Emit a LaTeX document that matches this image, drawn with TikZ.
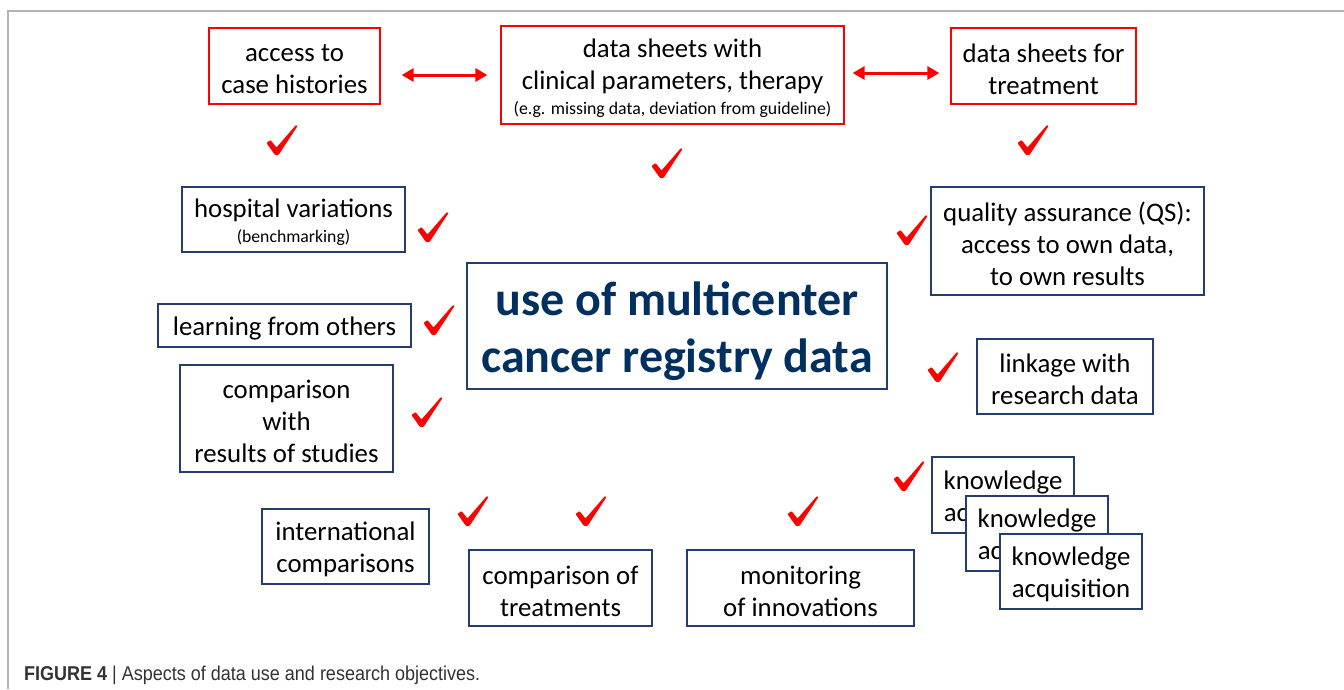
\documentclass[tikz,border=0pt]{standalone}
\usepackage{fontspec}
\setmainfont{Carlito}
\newfontfamily\capfont[FakeStretch=0.9]{Liberation Sans}
\usetikzlibrary{arrows.meta}
\definecolor{boxred}{RGB}{255,0,0}
\definecolor{boxblue}{RGB}{35,62,110}
\definecolor{centerblue}{RGB}{0,48,96}
\definecolor{framegray}{RGB}{178,178,178}
\definecolor{capgray}{RGB}{50,50,50}
\tikzset{
  x=1pt, y=-1pt,
  basebox/.style={draw, line width=1.3pt, fill=white, inner sep=0pt},
  redbox/.style={basebox, draw=boxred},
  bluebox/.style={basebox, draw=boxblue},
  txt/.style={inner sep=0pt, align=center, font=\fontsize{26.8}{32}\selectfont},
  dblarrow/.style={boxred, line width=3pt, {Triangle[length=12pt,width=13pt]}-{Triangle[length=12pt,width=13pt]}},
  chk/.pic={\fill[boxred, rounded corners=0.8pt] (-15.5,3) -- (-11.5,0) -- (-5.5,7.5) -- (14,-15) -- (15.5,-14) -- (-3.5,15) -- (-7,15) -- cycle;}
}
% #1 style, #2 name, #3 centre, #4 width, #5 height, #6 text
\newcommand{\bx}[6]{%
  \node[#1, minimum width=#4pt, minimum height=#5pt] (#2) at #3 {};
  \node[txt] (#2-t) at ([yshift=-3pt]#2.center) {#6};}
\begin{document}
\begin{tikzpicture}
\useasboundingbox (0,0) rectangle (1344,689);
\draw[framegray, line width=2pt] (8,689) -- (8,11) -- (1344,11);

% top red boxes
\bx{redbox}{access}{(294.5,66)}{171}{76}{access to\\case histories}
\bx{redbox}{sheets}{(672.5,75)}{343}{98}{data sheets with\\clinical parameters, therapy\\[-7pt]{\fontsize{17.8}{20}\selectfont (e.g. missing data, deviation from guideline)}}
\bx{redbox}{treat}{(1043.5,66)}{185}{76}{data sheets for\\treatment}

\draw[dblarrow, shorten <=21pt, shorten >=13pt] (access.east |- sheets.west) -- (sheets.west);
\draw[dblarrow, shorten <=8pt, shorten >=11pt] ([yshift=2pt]sheets.east) -- ([yshift=2pt]sheets.east -| treat.west);

% centre
\node[bluebox, minimum width=420pt, minimum height=126pt] (center) at (677,326) {};
\node[txt, text=centerblue, font=\fontsize{48}{57}\selectfont\bfseries] (center-t) at ([yshift=-5pt]center.center) {use of multicenter\\cancer registry data};

% blue boxes
\bx{bluebox}{hosp}{(293.5,219.5)}{223}{65}{hospital variations\\[-7pt]{\fontsize{17.7}{20}\selectfont (benchmarking)}}
\bx{bluebox}{qa}{(1067.5,241)}{273}{108}{quality assurance (QS):\\access to own data,\\to own results}
\bx{bluebox}{learn}{(284.5,325.5)}{253}{43}{learning from others}
\bx{bluebox}{studies}{(286.5,418.5)}{213}{107}{comparison\\with\\results of studies}
\bx{bluebox}{link}{(1065,376.5)}{176}{75}{linkage with\\research data}
\bx{bluebox}{know1}{(1003,495)}{142}{76}{knowledge\\acquisition}
\bx{bluebox}{know2}{(1037,533.5)}{142}{75}{knowledge\\acquisition}
\bx{bluebox}{know3}{(1071,571.5)}{142}{75}{knowledge\\acquisition}
\bx{bluebox}{intl}{(345.5,546.5)}{167}{75}{international\\comparisons}
\bx{bluebox}{ctreat}{(560.5,588)}{183}{76}{comparison of\\treatments}
\bx{bluebox}{monitor}{(800.5,588)}{227}{76}{monitoring\\of innovations}

% check marks
\pic at (282,140) {chk};
\pic at (667,163) {chk};
\pic at (1033,140) {chk};
\pic at (433,227) {chk};
\pic at (912,230) {chk};
\pic at (439,320) {chk};
\pic at (943,367) {chk};
\pic at (427,412) {chk};
\pic at (909,476) {chk};
\pic at (473,511) {chk};
\pic at (591,511) {chk};
\pic at (803,511) {chk};

% caption
\node[anchor=base west, inner sep=0pt, text=capgray, font=\capfont\fontsize{20}{24}\selectfont] (caption) at (24,680)
  {{\bfseries FIGURE 4} | Aspects of data use and research objectives.};
\end{tikzpicture}
\end{document}
